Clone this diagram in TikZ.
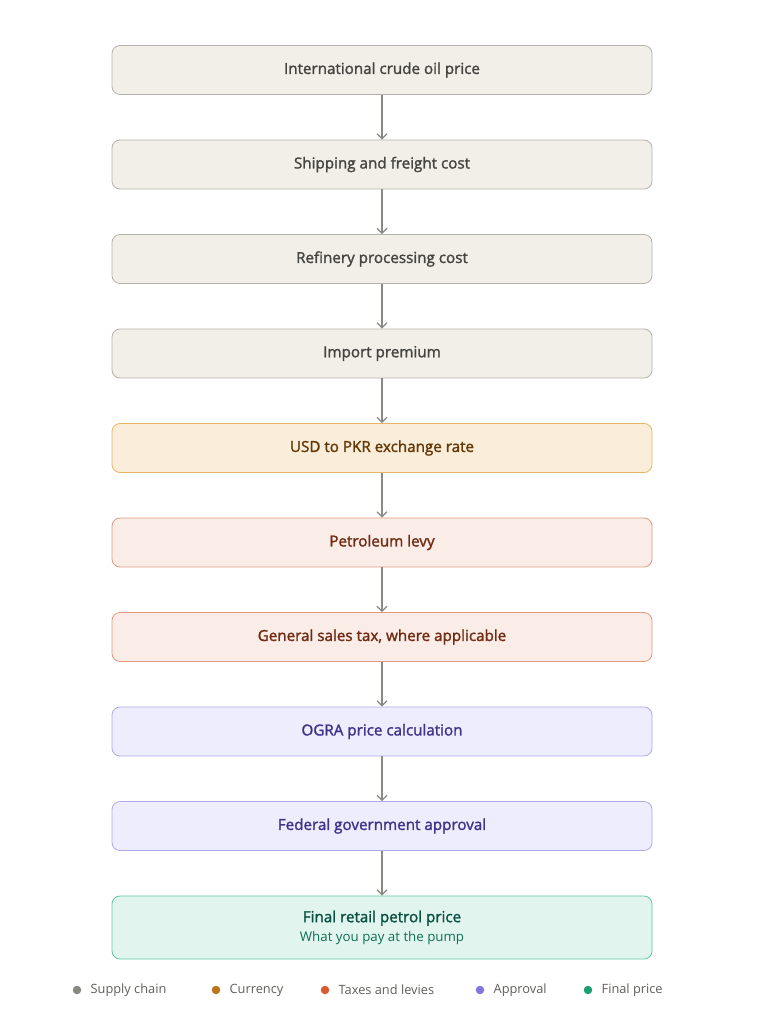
\documentclass[tikz,border=0pt]{standalone}
\usepackage{fontspec}
\setmainfont{Open Sans}[BoldFont={Open Sans},BoldFeatures={FakeBold=1.6}]
\usetikzlibrary{positioning,arrows.meta}

\definecolor{supfill}{HTML}{F1EFE8}
\definecolor{supline}{HTML}{B4B2A9}
\definecolor{suptext}{HTML}{444441}
\definecolor{curfill}{HTML}{FAEEDA}
\definecolor{curline}{HTML}{E8B468}
\definecolor{curtext}{HTML}{633806}
\definecolor{taxfill}{HTML}{FAECE7}
\definecolor{taxline}{HTML}{E09A80}
\definecolor{taxtext}{HTML}{712B13}
\definecolor{aprfill}{HTML}{EEEDFE}
\definecolor{aprline}{HTML}{AFA9EC}
\definecolor{aprtext}{HTML}{3C3489}
\definecolor{finfill}{HTML}{E1F5EE}
\definecolor{finline}{HTML}{5DCAA5}
\definecolor{fintext}{HTML}{085041}
\definecolor{finsub}{HTML}{0F6E56}
\definecolor{arrowgray}{HTML}{8A8984}
\definecolor{legtext}{HTML}{5F5E5A}
\definecolor{supdot}{HTML}{888780}
\definecolor{curdot}{HTML}{BA7517}
\definecolor{taxdot}{HTML}{D85A30}
\definecolor{aprdot}{HTML}{7F77DD}
\definecolor{findot}{HTML}{1D9E75}

\tikzset{
    stagebox/.style={draw=#1line, fill=#1fill, text=#1text, rounded corners=8pt,
        minimum width=540pt, minimum height=49pt, line width=0.8pt,
        font=\fontsize{15.2}{17}\selectfont\bfseries},
    flow/.style={draw=arrowgray, line width=1.2pt,
        -{Straight Barb[length=5pt,width=10pt,line width=1.2pt]}},
    legdot/.style={circle, fill=#1dot, inner sep=0pt, minimum size=8.5pt},
    legitem/.style={text=legtext, inner sep=0pt, anchor=west,
        font=\fontsize{12.8}{15}\selectfont}
}

\begin{document}
\begin{tikzpicture}[x=1pt,y=1pt,node distance=44.7pt]
        \useasboundingbox (0,0) rectangle (765,-1024);
        % stages
        \node[stagebox=sup] (crude) at (382,-70) {International crude oil price};
        \node[stagebox=sup, below=of crude] (freight) {Shipping and freight cost};
        \node[stagebox=sup, below=of freight] (refinery) {Refinery processing cost};
        \node[stagebox=sup, below=of refinery] (premium) {Import premium};
        \node[stagebox=cur, below=of premium] (rate) {USD to PKR exchange rate};
        \node[stagebox=tax, below=of rate] (levy) {Petroleum levy};
        \node[stagebox=tax, below=of levy] (gst) {General sales tax, where applicable};
        \node[stagebox=apr, below=of gst] (ogra) {OGRA price calculation};
        \node[stagebox=apr, below=of ogra] (approval) {Federal government approval};
        \node[stagebox=fin, below=of approval, minimum height=63pt, align=center] (retail)
            {Final retail petrol price\\[2pt]
             {\mdseries\fontsize{13.3}{15}\selectfont\color{finsub}What you pay at the pump}};
        % arrows
        \foreach \a/\b in {crude/freight, freight/refinery, refinery/premium,
            premium/rate, rate/levy, levy/gst, gst/ogra, ogra/approval, approval/retail}
            \draw[flow] (\a) -- (\b);
        % legend
        \foreach \n/\x/\t in {sup/77/Supply chain, cur/216/Currency,
            tax/325/Taxes and levies, apr/480/Approval, fin/588/Final price}
        {
            \node[legdot=\n] (dot\n) at (\x,-990) {};
            \node[legitem, right=9pt of dot\n] (lab\n) {\t};
        }
\end{tikzpicture}
\end{document}
